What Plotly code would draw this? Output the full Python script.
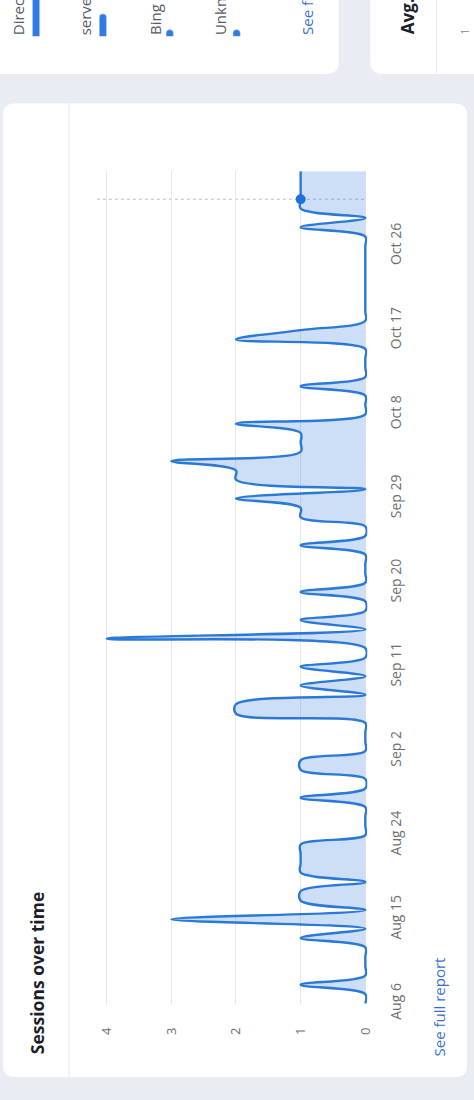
import plotly.graph_objects as go
import pandas as pd

# ---------------- data ----------------
start_date = "2023-08-06"
n_days = 90
dates = pd.date_range(start_date, periods=n_days, freq="D")
sessions = [0, 0, 1, 0, 0, 0, 0, 1, 0, 3,
            0, 1, 1, 0, 1, 1, 1, 1, 0, 0,
            0, 0, 1, 0, 0, 1, 1, 0, 0, 0,
            0, 2, 2, 0, 1, 0, 1, 0, 0, 4,
            0, 1, 0, 0, 1, 0, 0, 0, 0, 1,
            0, 0, 1, 1, 2, 0, 2, 2, 3, 1,
            1, 1, 2, 0, 0, 0, 1, 0, 0, 0,
            0, 2, 1, 0, 0, 0, 0, 0, 0, 0,
            0, 0, 0, 1, 0, 1, 1, 1, 1, 1]
hover_index = 86
value_ticks = [0, 1, 2, 3, 4]
date_tick_step = 9

# fragment of the neighbouring "traffic source" card
source_names = ["Direct", "server", "Bing", "Unknown"]
source_share = [62, 23, 7, 7]

# ---------------- helpers (pixel -> paper) ----------------
W, H = 474, 1100
def PX(x):
    return x / W
def PY(y):
    return 1 - y / H

def rrect(x0, y0, x1, y1, r):
    pts = [("M", [(x0 + r, y0)]), ("L", [(x1 - r, y0)]), ("Q", [(x1, y0), (x1, y0 + r)]),
           ("L", [(x1, y1 - r)]), ("Q", [(x1, y1), (x1 - r, y1)]), ("L", [(x0 + r, y1)]),
           ("Q", [(x0, y1), (x0, y1 - r)]), ("L", [(x0, y0 + r)]), ("Q", [(x0, y0), (x0 + r, y0)])]
    s = ""
    for cmd, ps in pts:
        s += cmd + " " + " ".join(f"{PX(a):.5f},{PY(b):.5f}" for a, b in ps) + " "
    return s + "Z"

FONT = "Open Sans, Noto Sans, sans-serif"
LINE = "#2a78d8"
FILL = "rgba(42,120,216,0.24)"

fig = go.Figure()

fig.add_trace(go.Scatter(
    x=sessions, y=dates, mode="lines",
    line=dict(color=LINE, width=2.4, shape="spline", smoothing=1),
    fill="tozerox", fillcolor=FILL, hoverinfo="skip",
    xaxis="x", yaxis="y", showlegend=False))

fig.add_trace(go.Scatter(
    x=[sessions[hover_index]], y=[dates[hover_index]], mode="markers",
    marker=dict(color="#1f6fdc", size=10), hoverinfo="skip",
    xaxis="x", yaxis="y", showlegend=False))

fig.add_trace(go.Bar(
    x=source_names, y=source_share, marker=dict(color="#2f7be3"),
    width=0.11, xaxis="x2", yaxis="y2", hoverinfo="skip", showlegend=False))

k = 65.5  # px per session unit
x_left = 370 - 4.15 * k
x_right = 370 + 0.03 * k
y_bottom = 1018.3 + 0.05 * 9.49
y_top = 173.7

shapes = [
    # other cards at top
    dict(type="path", xref="paper", yref="paper", path=rrect(-20, -30, 343, 75, 12),
         fillcolor="white", line=dict(width=0), layer="below"),
    dict(type="path", xref="paper", yref="paper", path=rrect(375, -30, 500, 75, 12),
         fillcolor="white", line=dict(width=0), layer="below"),
    dict(type="line", xref="paper", yref="paper", x0=PX(442), x1=PX(442), y0=PY(0), y1=PY(75),
         line=dict(color="#e6e8ec", width=1), layer="below"),
    # main card
    dict(type="path", xref="paper", yref="paper", path=rrect(3, 105, 473, 1093, 12),
         fillcolor="white", line=dict(width=0), layer="below"),
    dict(type="line", xref="paper", yref="paper", x0=PX(70), x1=PX(70), y0=PY(105), y1=PY(1093),
         line=dict(color="#e6e8ec", width=1), layer="below"),
    # hover guide
    dict(type="line", xref="x", yref="y", x0=4.15, x1=0,
         y0=dates[hover_index], y1=dates[hover_index],
         line=dict(color="#bdbdbd", width=1, dash="dot"), layer="below"),
]

annotations = [
    dict(text="<b>Sessions over time</b>", x=PX(37), y=PY(988), xref="paper", yref="paper",
         xanchor="center", yanchor="middle", textangle=-90, showarrow=False,
         font=dict(size=17.5, color="#1c1f2b", family=FONT)),
    dict(text="See full report", x=PX(445), y=PY(1022), xref="paper", yref="paper",
         xanchor="center", yanchor="middle", textangle=-90, showarrow=False,
         font=dict(size=15, color="#3a6fd8", family=FONT)),
    dict(text="<b>Avg.</b>", x=PX(413), y=PY(37), xref="paper", yref="paper",
         xanchor="center", yanchor="bottom", textangle=-90, showarrow=False,
         font=dict(size=17, color="#1c1f2b", family=FONT)),
    dict(text="1", x=PX(471), y=PY(37), xref="paper", yref="paper",
         xanchor="center", yanchor="bottom", textangle=-90, showarrow=False,
         font=dict(size=10, color="#8a8a8a", family=FONT)),
    dict(text="See full report", x=PX(311), y=PY(38), xref="paper", yref="paper",
         xanchor="center", yanchor="bottom", textangle=-90, showarrow=False,
         font=dict(size=15, color="#3a6fd8", family=FONT)),
]
for name, xc in zip(source_names, [19, 87, 157, 223]):
    annotations.append(dict(text=name, x=PX(xc), y=PY(38), xref="paper", yref="paper",
                            xanchor="center", yanchor="bottom", textangle=-90, showarrow=False,
                            font=dict(size=15, color="#555a63", family=FONT)))

fig.update_layout(
    width=W, height=H,
    margin=dict(l=0, r=0, t=0, b=0),
    paper_bgcolor="#e9edf3",
    plot_bgcolor="rgba(0,0,0,0)",
    font=dict(family=FONT),
    hovermode=False,
    barcornerradius=4,
    shapes=shapes,
    annotations=annotations,
    xaxis=dict(domain=[PX(x_left), PX(x_right)], range=[4.15, -0.03], anchor="y", side="bottom",
               tickvals=value_ticks, tickangle=-90, showgrid=True, gridcolor="#e7e7e7", gridwidth=1,
               zeroline=False, showline=False, ticks="", ticklabelstandoff=20,
               tickfont=dict(size=13, color="#6e6e6e", family=FONT), fixedrange=True),
    yaxis=dict(domain=[PY(y_bottom), PY(y_top)], type="date",
               range=[dates[0] - pd.Timedelta(hours=1.2), dates[-1]], anchor="x", side="right",
               tickvals=list(dates[::date_tick_step]), tickformat="%b %-d", tickangle=-90,
               showgrid=False, zeroline=False, showline=False, ticks="", ticklabelstandoff=19,
               tickfont=dict(size=14, color="#6e6e6e", family=FONT), fixedrange=True),
    xaxis2=dict(domain=[PX(2.65), PX(273.5)], range=[-0.5, 3.5], anchor="y2", visible=False,
                type="category"),
    yaxis2=dict(domain=[PY(37), 1], range=[0, 37], anchor="x2", visible=False),
)

fig.write_html("out.html",
               config={"displayModeBar": False, "staticPlot": True},
               post_script="document.body.style.margin='0';document.body.style.overflow='hidden';"
                           "document.body.style.background='#e9edf3';")
